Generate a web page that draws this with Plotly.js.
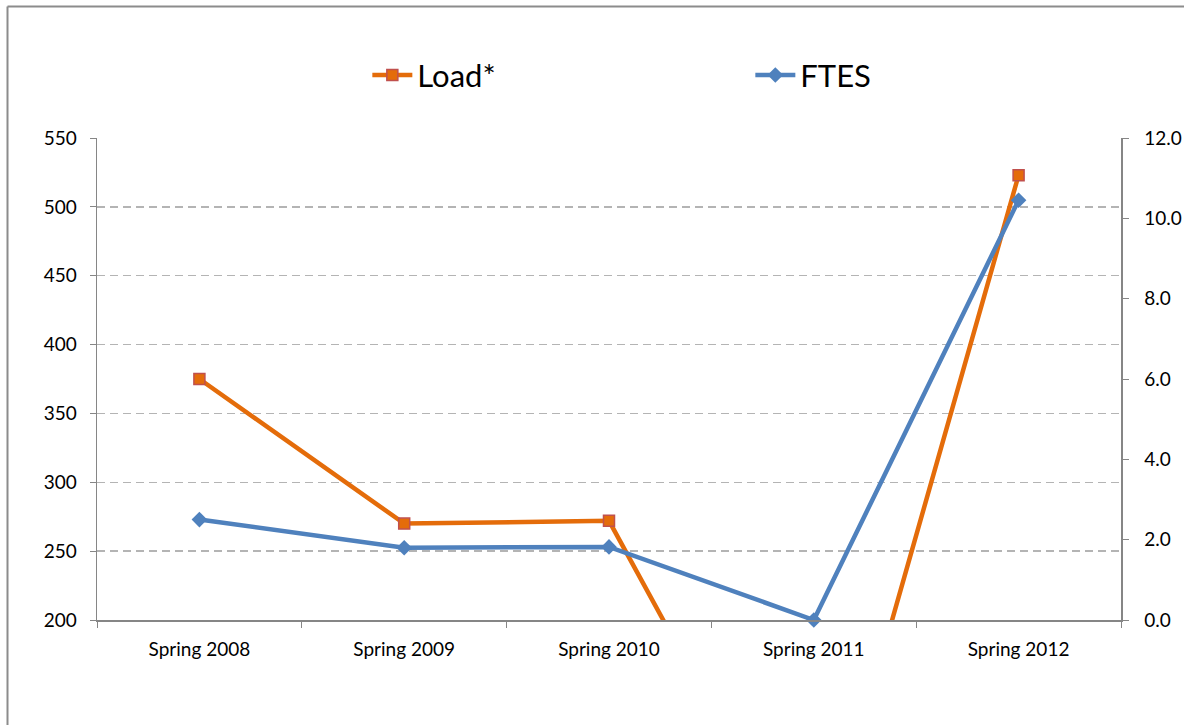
<!DOCTYPE html>
<html>
<head>
<meta charset="utf-8">
<script src="https://cdn.plot.ly/plotly-3.0.1.min.js"></script>
<style>
html,body{margin:0;padding:0;background:#fff;}
#chart{width:1184px;height:725px;}
</style>
</head>
<body>
<div id="chart"></div>
<script>
var categories = ["Spring 2008", "Spring 2009", "Spring 2010", "Spring 2011", "Spring 2012"];
var loadValues = [375, 270, 272, 0, 523];
var ftesValues = [2.5, 1.8, 1.82, 0, 10.45];
var leftTicks = [200, 250, 300, 350, 400, 450, 500, 550];
var rightTicks = [0, 2, 4, 6, 8, 10, 12];
var rightTickText = ["0.0", "2.0", "4.0", "6.0", "8.0", "10.0", "12.0"];

var FONT = "Lato, 'Open Sans', sans-serif";

var traces = [
  {
    x: categories, y: loadValues, name: "Load*", type: "scatter", mode: "lines+markers",
    line: {color: "#E46C0A", width: 4.5},
    marker: {symbol: "square", size: 11, color: "#E46C0A", line: {color: "#C0504D", width: 1.5}},
    cliponaxis: true
  },
  {
    x: categories, y: ftesValues, name: "FTES", type: "scatter", mode: "lines+markers",
    yaxis: "y2",
    line: {color: "#4F81BD", width: 4.5},
    marker: {symbol: "diamond", size: 12, color: "#4F81BD"},
    cliponaxis: false
  }
];

var layout = {
  width: 1184, height: 725,
  margin: {l: 97, r: 63, t: 138, b: 105},
  paper_bgcolor: "#fff", plot_bgcolor: "#fff",
  font: {family: FONT, size: 19, color: "#000"},
  showlegend: true,
  legend: {
    orientation: "h", x: 0.264, xanchor: "left", y: 1.13, yanchor: "middle",
    font: {family: FONT, size: 31, color: "#000"},
    entrywidth: 328, entrywidthmode: "pixels",
    itemwidth: 40, bgcolor: "rgba(0,0,0,0)"
  },
  xaxis: {
    type: "category", range: [-0.5, 4.5], tickson: "boundaries", ticks: "outside", ticklen: 6,
    tickcolor: "#868686", showline: true, linecolor: "#868686", linewidth: 1.5,
    showgrid: false, zeroline: false, tickfont: {size: 19}, fixedrange: true,
    ticklabelstandoff: 12
  },
  yaxis: {
    range: [200, 550], tickvals: leftTicks, ticks: "outside", ticklen: 6,
    tickcolor: "#868686", showline: true, linecolor: "#868686", linewidth: 1.5,
    showgrid: true, gridcolor: "#B4B4B4", griddash: "8px,5px", gridwidth: 1.3,
    zeroline: false, tickfont: {size: 19}, ticklabelstandoff: 9
  },
  yaxis2: {
    overlaying: "y", side: "right", range: [0, 12], tickvals: rightTicks, ticktext: rightTickText,
    ticks: "outside", ticklen: 6, tickcolor: "#868686", showline: true, linecolor: "#868686",
    linewidth: 1.5, showgrid: false, zeroline: false, tickfont: {size: 19}, ticklabelstandoff: 12
  },
  shapes: [
    {type: "line", xref: "paper", yref: "paper", x0: -0.0874, x1: -0.0874, y0: -0.3, y1: 1.2728,
     line: {color: "#8C8C8C", width: 2}},
    {type: "line", xref: "paper", yref: "paper", x0: -0.0874, x1: 1.1, y0: 1.2728, y1: 1.2728,
     line: {color: "#8C8C8C", width: 2}}
  ]
};

Plotly.newPlot("chart", traces, layout, {displayModeBar: false, staticPlot: true});
</script>
</body>
</html>
